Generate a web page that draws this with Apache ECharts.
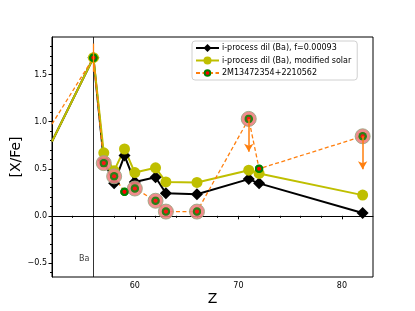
<!DOCTYPE html>
<html><head><meta charset="utf-8">
<script src="https://cdn.jsdelivr.net/npm/echarts@6/dist/echarts.min.js"></script>
<style>html,body{margin:0;padding:0;background:#fff}#c{width:415px;height:311px}</style>
</head><body><div id="c"></div>
<script>
// ---- data ----
const zModel = [52, 56, 57, 58, 59, 60, 62, 63, 66, 71, 72, 82];
const blackVals = [0.79, 1.68, 0.59, 0.345, 0.64, 0.36, 0.41, 0.24, 0.23, 0.39, 0.345, 0.03];
const yellowVals = [0.79, 1.68, 0.67, 0.48, 0.71, 0.46, 0.51, 0.36, 0.355, 0.485, 0.45, 0.22];
const zStar = [52, 56, 57, 58, 59, 60, 62, 63, 66, 71, 72, 82];
const starVals = [0.975, 1.68, 0.56, 0.42, 0.255, 0.29, 0.16, 0.045, 0.045, 1.03, 0.50, 0.845];
const haloZ = [57, 58, 60, 62, 63, 66, 71, 82];
const upperLimitZ = [71, 82];
const arrowLen = 0.35;
const baErr = [1.53, 1.83];
const xTicks = [60, 70, 80];
const yTicks = [-0.5, 0.0, 0.5, 1.0, 1.5];
const xMinor = [52,54,56,58,62,64,66,68,72,74,76,78,82];
const yMinor = [-0.6,-0.4,-0.3,-0.2,-0.1,0.1,0.2,0.3,0.4,0.6,0.7,0.8,0.9,1.1,1.2,1.3,1.4,1.6,1.7,1.8];
const names = ['i-process dil (Ba), f=0.00093', 'i-process dil (Ba), modified solar', '2M13472354+2210562'];
const baZ = 56;

const FONT = 'DejaVu Sans';
const starSym = 'image://data:image/svg+xml;charset=utf-8,' + encodeURIComponent(
  "<svg xmlns='http://www.w3.org/2000/svg' width='20' height='20'><circle cx='10' cy='10' r='9.5' fill='#008000'/><circle cx='10' cy='10' r='4.6' fill='#ff0000'/></svg>");

function pairs(xs, ys){ return xs.map((x,i)=>[x, ys[i]]); }
function withEdge(xs, ys){
  return xs.map((x,i)=> i===0 ? {value:[x,ys[i]], symbol:'none'} : {value:[x,ys[i]]});
}
const starMap = {}; zStar.forEach((z,i)=>starMap[z]=starVals[i]);

const grid = {left:52, right:42, top:37, bottom:34, outerBoundsMode:'none', containLabel:false};
const chart = echarts.init(document.getElementById('c'), null, {renderer:'canvas'});
const fmt = v => (v<0?'\u2212':'') + Math.abs(v).toFixed(1);
chart.setOption({
  animation:false,
  textStyle:{fontFamily:FONT},
  grid:[Object.assign({show:true, borderColor:'#000', borderWidth:1}, grid),
        Object.assign({show:false}, grid)],
  legend:{
    orient:'vertical', left:192, top:41, data:names,
    itemWidth:23, itemHeight:10, itemGap:4.5,
    padding:[3,6,3,3],
    backgroundColor:'rgba(255,255,255,0.8)', borderColor:'#d0d0d0', borderWidth:1, borderRadius:3,
    textStyle:{fontFamily:FONT, fontSize:8, color:'#000', padding:[0,0,0,-2]}
  },
  xAxis:[{
    type:'value', gridIndex:0, min:52, max:83,
    name:'Z', nameLocation:'middle', nameGap:15, nameMoveOverlap:false,
    nameTextStyle:{fontFamily:FONT, fontSize:14, color:'#000'},
    axisLine:{show:true, lineStyle:{color:'#000', width:1}},
    axisTick:{show:true, customValues:xTicks, length:3.5, lineStyle:{color:'#000'}},
    axisLabel:{customValues:xTicks, fontFamily:FONT, fontSize:8, color:'#000', margin:5},
    splitLine:{show:false}
  },{
    type:'value', gridIndex:1, min:52, max:83,
    axisLine:{show:false}, axisLabel:{show:false}, splitLine:{show:false},
    axisTick:{show:true, customValues:xMinor, length:2, lineStyle:{color:'#000'}}
  }],
  yAxis:[{
    type:'value', gridIndex:0, min:-0.65, max:1.9,
    name:'[X/Fe]', nameLocation:'middle', nameGap:29, nameRotate:90, nameMoveOverlap:false,
    nameTextStyle:{fontFamily:FONT, fontSize:14, color:'#000'},
    axisLine:{show:true, lineStyle:{color:'#000', width:1}},
    axisTick:{show:true, customValues:yTicks, length:3.5, lineStyle:{color:'#000'}},
    axisLabel:{customValues:yTicks, formatter:fmt, fontFamily:FONT, fontSize:8, color:'#000', margin:5},
    splitLine:{show:false}
  },{
    type:'value', gridIndex:1, min:-0.65, max:1.9,
    axisLine:{show:false}, axisLabel:{show:false}, splitLine:{show:false},
    axisTick:{show:true, customValues:yMinor, length:2, lineStyle:{color:'#000'}}
  }],
  series:[
    {
      name:names[0], type:'line', xAxisIndex:0, yAxisIndex:0, z:2,
      data:withEdge(zModel, blackVals), symbol:'diamond', symbolSize:12,
      lineStyle:{color:'#000', width:2}, itemStyle:{color:'#000'},
      markLine:{silent:true, symbol:['none','none'], label:{show:false},
        lineStyle:{color:'#000', width:0.8, type:'solid'},
        data:[{xAxis:baZ}]}
    },
    {
      name:names[1], type:'line', xAxisIndex:0, yAxisIndex:0, z:2,
      data:withEdge(zModel, yellowVals), symbol:'circle', symbolSize:11,
      lineStyle:{color:'#bfbf00', width:2}, itemStyle:{color:'#bfbf00'}
    },
    {
      name:names[2], type:'line', xAxisIndex:0, yAxisIndex:0, z:2,
      data:withEdge(zStar, starVals), symbol:starSym, symbolSize:9,
      lineStyle:{color:'#ff7f0e', width:1.3, type:[4,2.5]}, itemStyle:{color:'#008000'},
      markLine:{silent:true, symbol:['none','none'], label:{show:false},
        lineStyle:{color:'#ff7f0e', width:1.3, type:'solid'},
        data:[[{coord:[baZ, baErr[0]]},{coord:[baZ, baErr[1]]}]]}
    },
    {
      name:'halo', type:'scatter', xAxisIndex:0, yAxisIndex:0, z:3,
      data:haloZ.map(z=>[z, starMap[z]]), symbol:'circle', symbolSize:15,
      itemStyle:{color:'#f08080', opacity:0.9, borderColor:'#9aa883', borderWidth:1}
    },
    {
      name:'limits', type:'scatter', xAxisIndex:0, yAxisIndex:0, z:3,
      data:[], symbolSize:0,
      markLine:{silent:true, symbol:['none','arrow'], symbolSize:[7,8], label:{show:false},
        lineStyle:{color:'#ff7f0e', width:1.5, type:'solid'},
        data:upperLimitZ.map(z=>[{coord:[z, starMap[z]]},{coord:[z, starMap[z]-arrowLen]}])}
    },
    {
      name:'markers', type:'scatter', xAxisIndex:0, yAxisIndex:0, z:4,
      data:pairs(zStar.slice(1), starVals.slice(1)), symbol:starSym, symbolSize:9
    },
    {
      name:'balabel', type:'scatter', xAxisIndex:0, yAxisIndex:0, z:4,
      data:[[55.1, -0.46]], symbolSize:0,
      label:{show:true, position:'inside', formatter:'Ba', fontFamily:FONT, fontSize:8, color:'#000'}
    }
  ]
});
</script></body></html>
